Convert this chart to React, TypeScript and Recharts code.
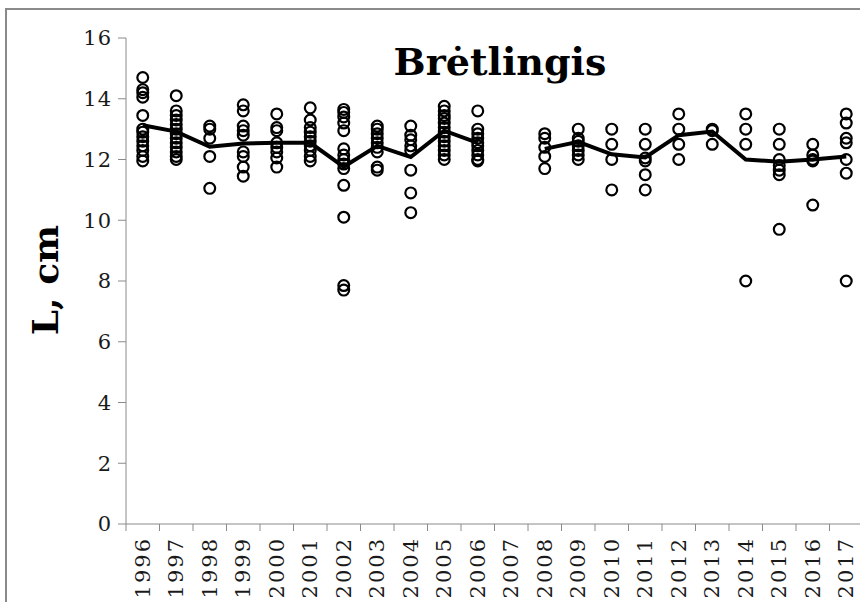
import { ComposedChart, Scatter, Line, XAxis, YAxis } from 'recharts'

// fish length (L, cm) per survey year; 2007 had no catch
const years = [
  '1996', '1997', '1998', '1999', '2000', '2001', '2002', '2003', '2004', '2005', '2006',
  '2007', '2008', '2009', '2010', '2011', '2012', '2013', '2014', '2015', '2016', '2017',
]

const lengthsByYear: number[][] = [
  [14.7, 14.3, 14.2, 14.05, 13.45, 13.0, 12.9, 12.75, 12.6, 12.45, 12.3, 12.1, 11.95],
  [14.1, 13.6, 13.45, 13.3, 13.15, 13.0, 12.85, 12.7, 12.55, 12.4, 12.25, 12.1, 12.0],
  [13.1, 13.0, 12.7, 12.1, 11.05],
  [13.8, 13.6, 13.1, 12.95, 12.8, 12.25, 12.1, 11.75, 11.45],
  [13.5, 13.05, 12.95, 12.55, 12.4, 12.25, 12.05, 11.75],
  [13.7, 13.3, 13.05, 12.9, 12.75, 12.6, 12.45, 12.3, 12.1, 11.95],
  [13.65, 13.55, 13.4, 13.2, 12.95, 12.35, 12.15, 12.0, 11.85, 11.7, 11.15, 10.1, 7.85, 7.7],
  [13.1, 13.0, 12.85, 12.7, 12.55, 12.4, 12.25, 11.75, 11.65],
  [13.1, 12.8, 12.65, 12.45, 12.3, 11.65, 10.9, 10.25],
  [13.75, 13.6, 13.45, 13.35, 13.2, 13.05, 12.9, 12.75, 12.6, 12.45, 12.3, 12.15, 12.0],
  [13.6, 13.0, 12.85, 12.7, 12.55, 12.45, 12.3, 12.15, 12.0, 11.95],
  [],
  [12.85, 12.7, 12.4, 12.1, 11.7],
  [13.0, 12.7, 12.6, 12.45, 12.3, 12.15, 12.0],
  [13.0, 12.5, 12.0, 11.0],
  [13.0, 12.5, 12.05, 11.95, 11.5, 11.0],
  [13.5, 13.0, 12.5, 12.0],
  [13.0, 12.95, 12.5],
  [13.5, 13.0, 12.5, 8.0],
  [13.0, 12.5, 12.0, 11.8, 11.65, 11.5, 9.7],
  [12.5, 12.15, 12.0, 11.95, 10.5],
  [13.5, 13.2, 12.7, 12.55, 12.0, 11.55, 8.0],
]

const meanLength: (number | null)[] = [
  13.13, 12.92, 12.42, 12.53, 12.55, 12.55, 11.76, 12.45, 12.08, 12.95, 12.55,
  null, 12.35, 12.58, 12.17, 12.07, 12.8, 12.92, 12.0, 11.93, 12.0, 12.1,
]

const yTicks = [0, 2, 4, 6, 8, 10, 12, 14, 16]

const points = lengthsByYear.flatMap((vals, i) => vals.map((v) => ({ x: i, y: v })))
const meanData = meanLength.map((v, i) => ({ x: i, y: v }))
const boundaries = years.map((_, i) => i - 0.5).concat(years.length - 0.5)

const PLOT_W = 737
const CAT_W = PLOT_W / years.length
const AXIS = '#8a8a8a'
const SERIF = '"DejaVu Serif", serif'

function YearTick({ x, y, payload }: any) {
  const i = payload.value + 0.5
  if (i >= years.length) return null
  const cx = x + CAT_W / 2
  const ty = y + 4
  return (
    <text
      x={cx}
      y={ty}
      transform={`rotate(-90, ${cx}, ${ty})`}
      textAnchor="end"
      dominantBaseline="central"
      fontFamily={SERIF}
      fontSize={21}
      letterSpacing={2}
      fill="#1a1a1a"
    >
      {years[i]}
    </text>
  )
}

function Circle({ cx, cy }: any) {
  return <circle cx={cx} cy={cy} r={5.4} fill="none" stroke="#000" strokeWidth={2.2} />
}

export default function App() {
  return (
    <div style={{ position: 'fixed', left: 0, top: 0, width: 860, height: 602, overflow: 'hidden', background: '#fff' }}>
      <div style={{ position: 'absolute', left: 5, top: 8, width: 920, height: 700, border: `2px solid ${AXIS}` }} />
      <div style={{ position: 'absolute', left: 0, top: 0 }}>
        <ComposedChart width={870} height={640} margin={{ top: 38, right: 7, left: 0, bottom: 0 }}>
          <XAxis
            type="number"
            dataKey="x"
            domain={[-0.5, years.length - 0.5]}
            ticks={boundaries}
            interval={0}
            allowDataOverflow
            height={116}
            tickSize={7}
            tickMargin={2}
            stroke={AXIS}
            tick={<YearTick />}
          />
          <YAxis
            type="number"
            dataKey="y"
            domain={[0, 16]}
            ticks={yTicks}
            interval={0}
            width={126}
            tickSize={8}
            tickMargin={6}
            stroke={AXIS}
            tick={{ fill: '#1a1a1a', fontFamily: SERIF, fontSize: 21, letterSpacing: 1 }}
          />
          <Scatter data={points} dataKey="y" shape={<Circle />} isAnimationActive={false} />
          <Line
            data={meanData}
            dataKey="y"
            stroke="#000"
            strokeWidth={4}
            dot={false}
            connectNulls={false}
            isAnimationActive={false}
          />
        </ComposedChart>
      </div>
      <div
        style={{
          position: 'absolute', left: 500, top: 39, transform: 'translateX(-50%)',
          fontFamily: SERIF, fontWeight: 'bold', fontSize: 38, lineHeight: '46px', color: '#000', whiteSpace: 'nowrap',
        }}
      >
        Brėtlingis
      </div>
      <div
        style={{
          position: 'absolute', left: 45, top: 280, transform: 'translate(-50%, -50%) rotate(-90deg)',
          fontFamily: SERIF, fontWeight: 'bold', fontSize: 36, color: '#000', whiteSpace: 'nowrap',
        }}
      >
        L, cm
      </div>
    </div>
  )
}
